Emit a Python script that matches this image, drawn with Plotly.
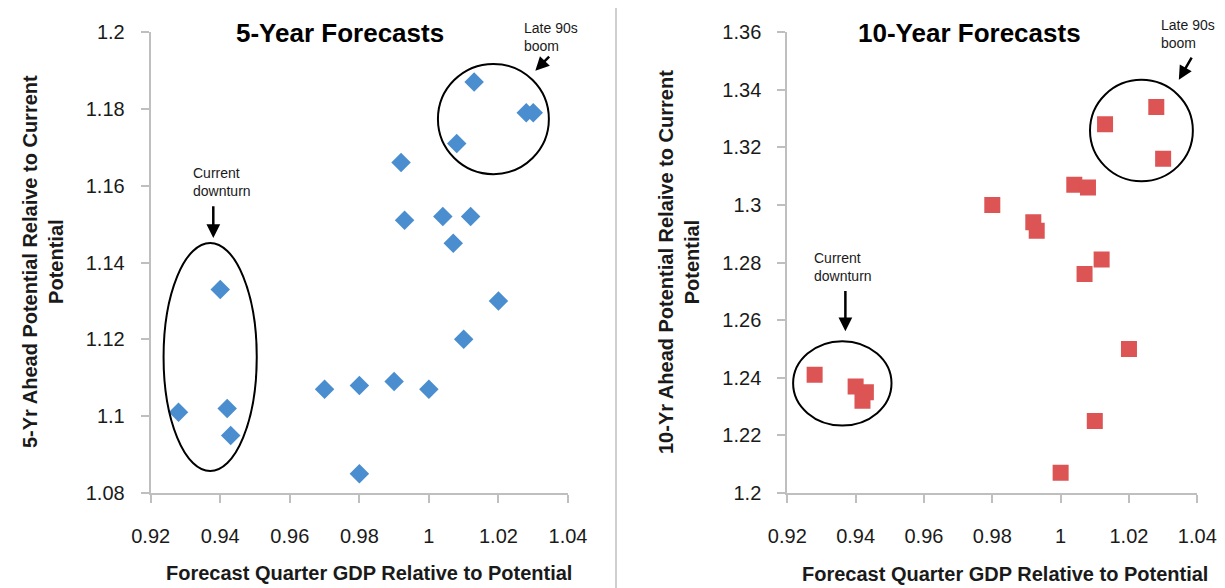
import plotly.graph_objects as go

# ---------------- data ----------------
gdp_5yr = [1.013, 1.028, 1.030, 1.008, 0.992, 0.993, 1.004, 1.012, 1.007, 0.940,
           1.020, 1.010, 0.970, 0.980, 0.990, 1.000, 0.928, 0.942, 0.943, 0.980]
pot_5yr = [1.187, 1.179, 1.179, 1.171, 1.166, 1.151, 1.152, 1.152, 1.145, 1.133,
           1.130, 1.120, 1.107, 1.108, 1.109, 1.107, 1.101, 1.102, 1.095, 1.085]

gdp_10yr = [1.028, 1.013, 1.030, 1.004, 1.008, 0.980, 0.992, 0.993, 1.012, 1.007,
            1.020, 0.928, 0.940, 0.943, 0.942, 1.010, 1.000]
pot_10yr = [1.334, 1.328, 1.316, 1.307, 1.306, 1.300, 1.294, 1.291, 1.281, 1.276,
            1.250, 1.241, 1.237, 1.235, 1.232, 1.225, 1.207]

x_ticks = [0.92, 0.94, 0.96, 0.98, 1.00, 1.02, 1.04]
x_tick_text = ["0.92", "0.94", "0.96", "0.98", "1", "1.02", "1.04"]
y5_ticks = [1.08, 1.10, 1.12, 1.14, 1.16, 1.18, 1.20]
y5_tick_text = ["1.08", "1.1", "1.12", "1.14", "1.16", "1.18", "1.2"]
y10_ticks = [1.20, 1.22, 1.24, 1.26, 1.28, 1.30, 1.32, 1.34, 1.36]
y10_tick_text = ["1.2", "1.22", "1.24", "1.26", "1.28", "1.3", "1.32", "1.34", "1.36"]

titles = ["5-Year Forecasts", "10-Year Forecasts"]
x_title = "Forecast Quarter GDP Relative to Potential"
y_titles = ["5-Yr Ahead Potential Relaive to Current<br>Potential",
            "10-Yr Ahead Potential Relaive to Current<br>Potential"]

# ---------------- figure ----------------
W, H = 1225, 588
TOP, BOT = 24, 485
FONT = "Liberation Sans, Arial, Helvetica, sans-serif"
AXC = "#bfbfbf"
TXT = "#1a1a1a"


def px_x(p):
    return p / W


def px_y(p):
    return (BOT - p) / (BOT - TOP)


fig = go.Figure()
fig.add_trace(go.Scatter(x=gdp_5yr, y=pot_5yr, mode="markers", xaxis="x", yaxis="y",
                         marker=dict(symbol="diamond", size=15, color="#4A8ED0"),
                         showlegend=False))
fig.add_trace(go.Scatter(x=gdp_10yr, y=pot_10yr, mode="markers", xaxis="x2", yaxis="y2",
                         marker=dict(symbol="square", size=16, color="#DC5454"),
                         showlegend=False))

axis_common = dict(showline=True, linecolor=AXC, linewidth=2, ticks="outside",
                   ticklen=8, tickwidth=2, tickcolor=AXC, showgrid=False,
                   zeroline=False, automargin=False,
                   tickfont=dict(family=FONT, size=20, color=TXT))

fig.update_layout(
    width=W, height=H,
    margin=dict(l=0, r=0, t=TOP, b=H - BOT, pad=0),
    paper_bgcolor="white", plot_bgcolor="white",
    xaxis=dict(domain=[px_x(142.7), px_x(560)], range=[0.92, 1.04],
               tickvals=x_ticks, ticktext=x_tick_text, anchor="y",
               ticklabelstandoff=16, **axis_common),
    yaxis=dict(domain=[0, 1], range=[1.08, 1.20], tickvals=y5_ticks,
               ticktext=y5_tick_text, anchor="x", ticklabelstandoff=12, **axis_common),
    xaxis2=dict(domain=[px_x(779.3), px_x(1189.3)], range=[0.92, 1.04],
                tickvals=x_ticks, ticktext=x_tick_text, anchor="y2",
                ticklabelstandoff=16, **axis_common),
    yaxis2=dict(domain=[0, 1], range=[1.20, 1.36], tickvals=y10_ticks,
                ticktext=y10_tick_text, anchor="x2", ticklabelstandoff=12, **axis_common),
)

shapes = [
    # divider
    dict(type="line", xref="paper", yref="paper", x0=px_x(608), x1=px_x(608),
         y0=px_y(H), y1=px_y(0), line=dict(color="#cfcfcf", width=2)),
    # left ellipses
    dict(type="circle", xref="x", yref="y", x0=0.9237, x1=0.9505, y0=1.0857, y1=1.1451,
         line=dict(color="black", width=2)),
    dict(type="circle", xref="x", yref="y", x0=1.0026, x1=1.0345, y0=1.163, y1=1.1917,
         line=dict(color="black", width=2)),
    # right ellipses
    dict(type="circle", xref="x2", yref="y2", x0=0.9217, x1=0.9505, y0=1.2234, y1=1.2527,
         line=dict(color="black", width=2)),
    dict(type="circle", xref="x2", yref="y2", x0=1.0086, x1=1.0387, y0=1.3082, y1=1.3434,
         line=dict(color="black", width=2)),
]
fig.update_layout(shapes=shapes)

ann = []
# titles
ann.append(dict(text="<b>%s</b>" % titles[0], xref="paper", yref="paper",
                x=px_x(332), y=px_y(25), showarrow=False, xanchor="center", yanchor="middle",
                font=dict(family=FONT, size=26, color="black")))
ann.append(dict(text="<b>%s</b>" % titles[1], xref="paper", yref="paper",
                x=px_x(961), y=px_y(25), showarrow=False, xanchor="center", yanchor="middle",
                font=dict(family=FONT, size=26, color="black")))
# x titles
for cx, cy in [(361, 565), (997, 566)]:
    ann.append(dict(text="<b>%s</b>" % x_title, xref="paper", yref="paper",
                    x=px_x(cx), y=px_y(cy), showarrow=False, xanchor="center",
                    yanchor="middle", font=dict(family=FONT, size=20, color=TXT)))
# y titles
for cx, t in [(35, y_titles[0]), (671, y_titles[1])]:
    ann.append(dict(text="<b>%s</b>" % t, xref="paper", yref="paper",
                    x=px_x(cx), y=px_y(254), showarrow=False, textangle=-90,
                    xanchor="center", yanchor="middle",
                    font=dict(family=FONT, size=20, color=TXT)))

note_font = dict(family=FONT, size=14, color=TXT)
# text notes
ann.append(dict(text="Current<br>downturn", xref="x", yref="y", x=0.9316, y=1.161,
                xanchor="left", yanchor="middle", align="left", showarrow=False, font=note_font))
ann.append(dict(text="Late 90s<br>boom", xref="x", yref="y", x=1.0267, y=1.1987,
                xanchor="left", yanchor="middle", align="left", showarrow=False, font=note_font))
ann.append(dict(text="Current<br>downturn", xref="x2", yref="y2", x=0.9272, y=1.2784,
                xanchor="left", yanchor="middle", align="left", showarrow=False, font=note_font))
ann.append(dict(text="Late 90s<br>boom", xref="x2", yref="y2", x=1.0288, y=1.3593,
                xanchor="left", yanchor="middle", align="left", showarrow=False, font=note_font))
# arrows
arrows = [
    ("x", "y", 0.938, 1.1464, 0.938, 1.155),
    ("x", "y", 1.0306, 1.1899, 1.035, 1.194),
    ("x2", "y2", 0.937, 1.2561, 0.937, 1.2706),
    ("x2", "y2", 1.0346, 1.3434, 1.0386, 1.3516),
]
for xr, yr, hx, hy, tx, ty in arrows:
    ann.append(dict(text="", xref=xr, yref=yr, axref=xr, ayref=yr, x=hx, y=hy, ax=tx, ay=ty,
                    showarrow=True, arrowhead=2, arrowsize=1.1, arrowwidth=2.5,
                    arrowcolor="black", standoff=0, startstandoff=0))
fig.update_layout(annotations=ann)

fig.write_html("out.html")
